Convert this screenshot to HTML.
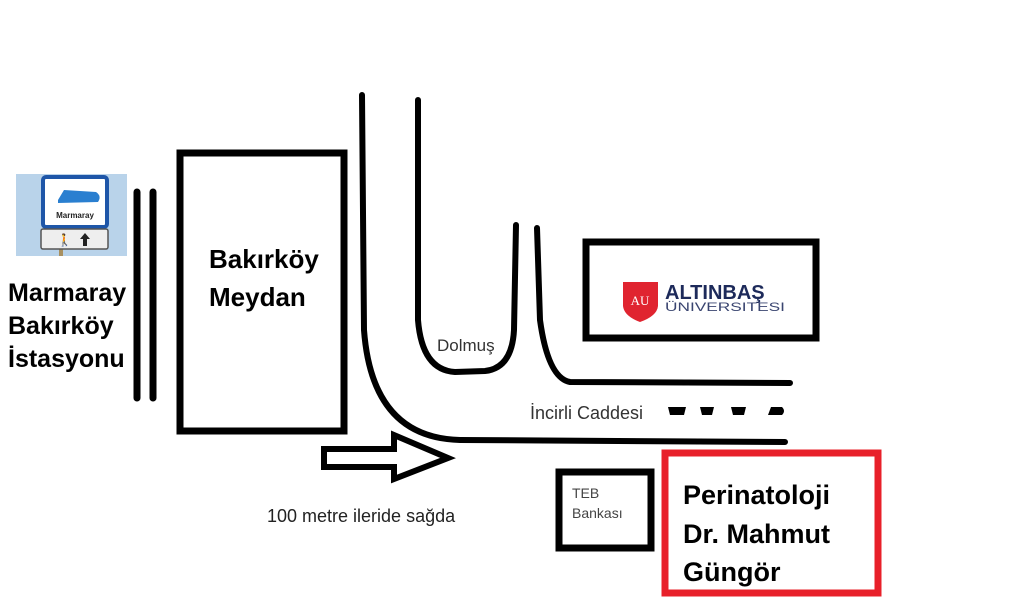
<!DOCTYPE html>
<html><head><meta charset="utf-8"><style>
html,body{margin:0;padding:0;background:#fff;}
body{width:1020px;height:600px;overflow:hidden;}
svg{display:block;}
</style></head><body>
<svg width="1020" height="600" viewBox="0 0 1020 600" xmlns="http://www.w3.org/2000/svg" font-family="'Liberation Sans', 'DejaVu Sans', sans-serif">
<rect x="16" y="174" width="111" height="82" fill="#b9d3ea"/>
<rect x="59" y="240" width="4" height="16" fill="#a89060"/>
<rect x="43" y="177" width="64" height="50" rx="3" fill="#fff" stroke="#1e56a8" stroke-width="4"/>
<path d="M58 200 L64 190 L96 192 Q102 196 98 202 L58 203 Z" fill="#2a7fd0"/>
<text x="75" y="218" font-size="8" font-weight="bold" text-anchor="middle" fill="#222">Marmaray</text>
<rect x="41" y="229" width="67" height="20" rx="2" fill="#eee" stroke="#555" stroke-width="1.5"/>
<text x="57" y="244" font-size="12" fill="#222">🚶</text>
<path d="M85 233 L90 239 L87 239 L87 246 L83 246 L83 239 L80 239 Z" fill="#222"/>
<line x1="137" y1="192" x2="137" y2="398" stroke="#000" stroke-width="7" stroke-linecap="round"/>
<line x1="153" y1="192" x2="153" y2="398" stroke="#000" stroke-width="7" stroke-linecap="round"/>
<text x="8" y="301" font-size="25" font-weight="bold">Marmaray</text>
<text x="8" y="334" font-size="25" font-weight="bold">Bakırköy</text>
<text x="8" y="367" font-size="25" font-weight="bold">İstasyonu</text>
<rect x="180" y="153" width="164" height="278" fill="none" stroke="#000" stroke-width="7"/>
<text x="209" y="268" font-size="26" font-weight="bold">Bakırköy</text>
<text x="209" y="306" font-size="26" font-weight="bold">Meydan</text>
<g fill="none" stroke="#000" stroke-width="6" stroke-linecap="round">
<path d="M362 95 L364 330 Q372 438 460 440 L785 442"/>
<path d="M418 100 L418 320 Q422 370 455 372 L485 371 Q512 368 514 330 L516 225"/>
<path d="M537 228 L540 320 Q548 378 570 382 L790 383"/>
</g>
<text x="437" y="351" font-size="17" fill="#333">Dolmuş</text>
<text x="530" y="419" font-size="18" fill="#333">İncirli Caddesi</text>
<g fill="#000">
<path d="M668 407 L686 407 L684 415 L670 415 Z"/>
<path d="M700 407 L714 407 L712 415 L702 415 Z"/>
<path d="M731 407 L746 407 L744 415 L733 415 Z"/>
<path d="M771 407 L782 407 Q786 411 782 415 L768 415 Z"/>
</g>
<path d="M324 449 L394 449 L394 435 L448 458 L394 479 L394 467 L324 467 Z" fill="#fff" stroke="#000" stroke-width="6" stroke-linejoin="miter"/>
<text x="267" y="522" font-size="18" fill="#222">100 metre ileride sağda</text>
<rect x="586" y="242" width="230" height="96" fill="#fff" stroke="#000" stroke-width="7"/>
<path d="M623 282 L658 282 L658 306 Q657 316 640 322 Q624 316 623 306 Z" fill="#e02430"/>
<text x="640" y="305" font-size="13" font-family="'Liberation Serif',serif" fill="#fff" text-anchor="middle">AU</text>
<text x="665" y="299" font-size="20" font-weight="bold" fill="#1d2a5a">ALTINBAŞ</text>
<text x="665" y="311" font-size="12" fill="#3a4570" textLength="120" lengthAdjust="spacingAndGlyphs">ÜNIVERSITESI</text>
<rect x="559" y="472" width="92" height="76" fill="none" stroke="#000" stroke-width="7"/>
<text x="572" y="498" font-size="14" fill="#444">TEB</text>
<text x="572" y="518" font-size="14" fill="#444">Bankası</text>
<rect x="665" y="453" width="213" height="140" fill="none" stroke="#e8202a" stroke-width="7"/>
<text x="683" y="504" font-size="27" font-weight="bold">Perinatoloji</text>
<text x="683" y="543" font-size="27" font-weight="bold">Dr. Mahmut</text>
<text x="683" y="581" font-size="27" font-weight="bold">Güngör</text>
</svg>
</body></html>
